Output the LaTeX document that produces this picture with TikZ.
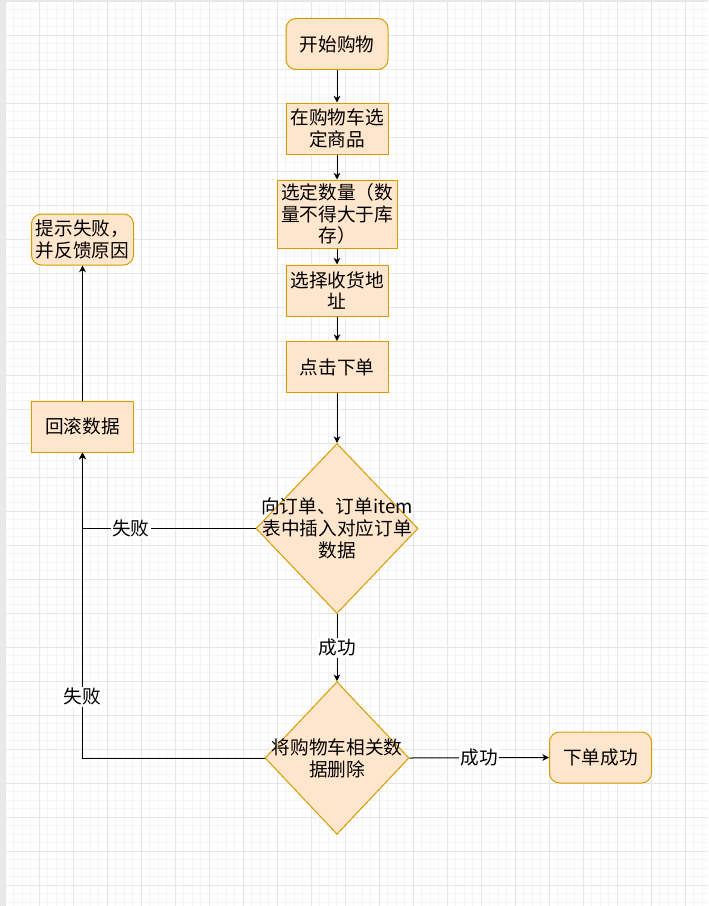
\documentclass[tikz,border=0pt]{standalone}
\usepackage{fontspec}
\setmainfont{Noto Sans CJK SC}
\usetikzlibrary{arrows.meta,shapes.geometric}
\definecolor{boxfill}{HTML}{FFE6CC}
\definecolor{boxline}{HTML}{D79B00}
\definecolor{gridmajor}{HTML}{E6E6E6}
\definecolor{gridminor}{HTML}{F4F4F4}
\definecolor{sidebar}{HTML}{E9E9E9}

\begin{document}
\begin{tikzpicture}[x=0.75pt,y=-0.75pt,
  every node/.style={font=\fontsize{14}{16.3}\selectfont},
  proc/.style={draw=boxline, fill=boxfill, line width=0.75pt, align=center,
    inner sep=0.5pt, minimum width=76.5pt, minimum height=38.25pt},
  term/.style={proc, rounded corners=7.5pt},
  decision/.style={diamond, draw=boxline, fill=boxfill, line width=0.75pt, inner sep=0pt},
  dtext/.style={align=center, inner sep=0pt},
  flow/.style={line width=0.75pt, -{Stealth[length=5pt,width=5pt,inset=1.5pt]}},
  lbl/.style={fill=white, inner sep=1pt},
]
% canvas and grid paper
\useasboundingbox (0,0) rectangle (708,906);
\fill[sidebar] (0,0) rectangle (708,906);
\fill[white] (5.5,1) rectangle (708,906);
\foreach \i in {0,...,82}
  \draw[gridminor, line width=0.75pt] ({5.3+8.5*\i},1) -- ({5.3+8.5*\i},906);
\foreach \i in {0,...,106}
  \draw[gridminor, line width=0.75pt] (5.5,{1.3+8.5*\i}) -- (708,{1.3+8.5*\i});
\foreach \i in {0,...,20}
  \draw[gridmajor, line width=0.75pt] ({5.3+34*\i},1) -- ({5.3+34*\i},906);
\foreach \i in {0,...,26}
  \draw[gridmajor, line width=0.75pt] (5.5,{1.3+34*\i}) -- (708,{1.3+34*\i});

% main flow
\node[term] (start) at (337,44) {开始购物};
\node[proc] (pick) at (337,128.5) {在购物车选\\定商品};
\node[proc, minimum width=90pt, minimum height=51pt] (qty) at (337,214) {选定数量（数\\量不得大于库\\存）};
\node[proc] (addr) at (337,290.5) {选择收货地\\址};
\node[proc] (submit) at (337,367) {点击下单};
\node[decision, minimum width=121.5pt, minimum height=127.5pt] (ins) at (337,528.5) {};
\node[dtext] (insT) at (ins) {向订单、订单item\\表中插入对应订单\\数据};
\node[decision, minimum width=108pt, minimum height=114.5pt] (del) at (337,758) {};
\node[dtext] (delT) at (del) {将购物车相关数\\据删除};
\node[term] (done) at (600.5,757.5) {下单成功};

% failure branch
\node[proc] (rollback) at (82.5,426.5) {回滚数据};
\node[term] (tip) at (82.5,239.5) {提示失败，\\并反馈原因};

% connectors
\draw[flow] (start) -- (pick);
\draw[flow] (pick) -- (qty);
\draw[flow] (qty) -- (addr);
\draw[flow] (addr) -- (submit);
\draw[flow] (submit) -- (ins.north);
\draw[flow] (ins.south) -- node[lbl] {成功} (del.north);
\draw[flow] (del.east) -- node[lbl] {成功} (done.west);
\draw[flow] (ins.west) -| node[lbl, pos=0.36] {失败} (rollback.south);
\draw[flow] (del.west) -| node[lbl, pos=0.6] {失败} (rollback.south);
\draw[flow] (rollback) -- (tip);
\end{tikzpicture}
\end{document}
